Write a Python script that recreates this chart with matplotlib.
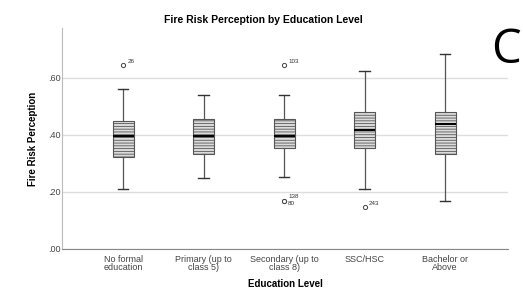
import numpy as np
import matplotlib.pyplot as plt
from matplotlib.ticker import FuncFormatter

plt.rcParams['font.family'] = ['Liberation Sans', 'DejaVu Sans']
plt.rcParams['hatch.color'] = '#8a8a8a'
plt.rcParams['hatch.linewidth'] = 0.6

# ----------------------------
# Data
# ----------------------------
categories = ["No formal\neducation", "Primary (up to\nclass 5)", "Secondary (up to\nclass 8)",
              "SSC/HSC", "Bachelor or\nAbove"]
whislo = [0.209, 0.250, 0.252, 0.211, 0.167]
q1 = [0.323, 0.334, 0.354, 0.354, 0.333]
med = [0.396, 0.395, 0.396, 0.418, 0.437]
q3 = [0.448, 0.457, 0.457, 0.480, 0.480]
whishi = [0.561, 0.541, 0.540, 0.623, 0.685]
fliers = [[0.646], [], [0.646, 0.170, 0.170], [0.148], []]
flier_labels = [["26"], [], ["103", "138", "80"], ["243"], []]

stats = []
for i in range(len(categories)):
    stats.append(dict(whislo=whislo[i], q1=q1[i], med=med[i], q3=q3[i],
                      whishi=whishi[i], fliers=fliers[i]))

# ----------------------------
# Plot
# ----------------------------
fig = plt.figure(figsize=(5.23, 2.98), dpi=100)
ax = fig.add_axes([62 / 523, 1 - 249 / 298, 446 / 523, 221 / 298])

pos = np.arange(len(categories))
bp = ax.bxp(stats, positions=pos, widths=0.26, capwidths=0.13, patch_artist=True,
            boxprops=dict(facecolor='#dcdcdc', edgecolor='#555555', linewidth=0.8, hatch='------'),
            medianprops=dict(color='black', linewidth=1.4),
            whiskerprops=dict(color='#555555', linewidth=0.9),
            capprops=dict(color='#333333', linewidth=1.0),
            flierprops=dict(marker='o', markersize=3, markerfacecolor='white',
                            markeredgecolor='#444444', markeredgewidth=0.7))

# outlier labels
for i in range(len(categories)):
    for v, lab in zip(fliers[i], flier_labels[i]):
        dy = 0.012
        if lab == "80":
            dy = -0.012
        elif lab == "138":
            dy = 0.014
        ax.text(pos[i] + 0.05, v + dy, lab, fontsize=4.5, color='#333333',
                va='center', ha='left')

ax.set_xlim(-0.76, 4.78)
ax.set_ylim(0, 0.775)
ax.set_yticks([0, 0.2, 0.4, 0.6])
ax.yaxis.set_major_formatter(FuncFormatter(lambda v, p: ("%.2f" % v)[1:]))
ax.set_xticks(pos)
ax.set_xticklabels(categories, fontsize=6.5, color='#444444', linespacing=0.95)
ax.tick_params(axis='y', labelsize=6.5, labelcolor='#444444', length=0, pad=1)
ax.tick_params(axis='x', length=0, pad=4)

ax.grid(axis='y', color='#dedede', linewidth=1.0)
ax.set_axisbelow(True)
for s in ['top', 'right']:
    ax.spines[s].set_visible(False)
ax.spines['left'].set_color('#bbbbbb')
ax.spines['bottom'].set_color('#888888')

fig.text(263 / 523, 1 - 20 / 298, "Fire Risk Perception by Education Level", fontsize=7.5,
         fontweight='bold', ha='center', va='center')
ax.set_xlabel("Education Level", fontsize=7, fontweight='bold', labelpad=5)
ax.set_ylabel("Fire Risk Perception", fontsize=7, fontweight='bold', labelpad=7)

fig.text(491 / 523, 1 - 50 / 298, "C", fontsize=34, ha='left', va='center',
         family=['Open Sans', 'DejaVu Sans'])

fig.savefig("out.png", dpi=100)
